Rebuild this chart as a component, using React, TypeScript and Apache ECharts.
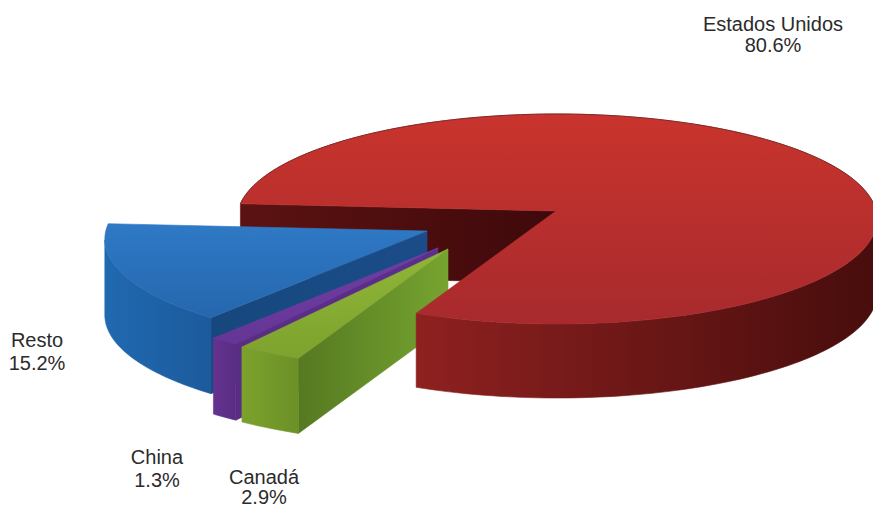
import { useEffect, useRef } from "react";
import * as echarts from "echarts";

// Shares of the total, listed clockwise from the left edge of the large slice.
const countries = ["Estados Unidos", "Canadá", "China", "Resto"];
const shares = [80.6, 2.9, 1.3, 15.2];

// Projected disc of the pie and the angle where the first slice begins.
const DISC = { cx: 557, cy: 219, rx: 320, ry: 105, apexX: 556, apexY: 211 };
const START_ANGLE = 184;

// Where each slice's point sits once pulled out, how much nearer it looks, and its thickness.
const apexX = [556, 448, 438, 427];
const apexY = [211, 249, 248, 231];
const nearScale = [1, 1.07, 1.05, 1.01];
const thickness = [74, 75, 76, 76];
const innerWallHeight = 72;

const linear = (x2: number, y2: number, from: string, to: string) =>
  new echarts.graphic.LinearGradient(0, 0, x2, y2, [
    { offset: 0, color: from },
    { offset: 1, color: to },
  ]);

const topFills = [
  linear(0, 1, "#c9342d", "#a82a2d"),
  linear(0, 1, "#8fb737", "#7ea22e"),
  linear(0, 1, "#6f3ea2", "#653596"),
  linear(0, 1, "#2f79c6", "#2567ad"),
];
const rimFills = [
  linear(1, 0, "#8e2120", "#470d0c"),
  linear(1, 0, "#7ba22c", "#6c9027"),
  linear(1, 0, "#64338f", "#5a2d84"),
  linear(1, 0, "#2069b0", "#1c5a9c"),
];
const cutFills = [
  linear(1, 0, "#5c1212", "#3f090b"),
  linear(1, 0, "#557921", "#76a430"),
  linear(1, 0, "#5a2d84", "#5c2e8e"),
  linear(1, 0, "#16487e", "#1b4c88"),
];

// Centre of each two-line label.
const labelX = [773, 264, 157, 37];
const labelNameY = [24, 477, 457, 340];
const labelValueY = [45, 497, 480, 363];

// Slice boundaries in degrees, clockwise on screen.
const bounds: [number, number][] = [];
shares.reduce((from, share) => {
  const to = from + (share / 100) * 360;
  bounds.push([from, to]);
  return to;
}, START_ANGLE);

// Where a ray leaving the slice's point at a given angle meets the rim of the disc.
function rimPoint(index: number, degrees: number): [number, number] {
  const a = (degrees * Math.PI) / 180;
  const c = Math.cos(a);
  const s = Math.sin(a);
  const ox = (DISC.apexX - DISC.cx) / DISC.rx;
  const oy = (DISC.apexY - DISC.cy) / DISC.ry;
  const b = ox * c + oy * s;
  const t = -b + Math.sqrt(b * b - (ox * ox + oy * oy - 1));
  const k = nearScale[index];
  return [apexX[index] + k * DISC.rx * t * c, apexY[index] + k * DISC.ry * t * s];
}

function rimArc(index: number, from: number, to: number) {
  const pts: [number, number][] = [];
  const steps = Math.max(2, Math.ceil((to - from) / 1.5));
  for (let i = 0; i <= steps; i++) pts.push(rimPoint(index, from + ((to - from) * i) / steps));
  return pts;
}

const drop = (pts: [number, number][], d: number) =>
  pts.map(([x, y]) => [x, y + d] as [number, number]);

// A hairline of the fill's own colour closes the seams between neighbouring faces.
const face = (points: [number, number][], fill: unknown) => ({
  type: "polygon",
  shape: { points },
  style: { fill, stroke: fill, lineWidth: 0.6 },
});

// Wall along a straight cut, from the slice's point out to the rim.
function cutWall(index: number, degrees: number, d: number) {
  const apex: [number, number] = [apexX[index], apexY[index]];
  const rim = rimPoint(index, degrees);
  return face([rim, apex, [apex[0], apex[1] + d], [rim[0], rim[1] + d]], cutFills[index]);
}

// Curved outer wall; only the part of the rim facing the viewer is built.
function outerWall(index: number) {
  const [from, to] = bounds[index];
  const floorY = DISC.cy + (apexY[index] - DISC.apexY);
  const arc = rimArc(index, from, to).filter(([, y]) => y >= floorY);
  return face([...arc, ...drop(arc, thickness[index]).reverse()], rimFills[index]);
}

function topFace(index: number) {
  const [from, to] = bounds[index];
  return face([[apexX[index], apexY[index]], ...rimArc(index, from, to)], topFills[index]);
}

function labelTexts(index: number) {
  const line = (text: string, y: number) => ({
    type: "text",
    style: {
      text,
      x: labelX[index],
      y,
      fill: "#2b2b2b",
      font: '20px "Liberation Sans", Arial, sans-serif',
      align: "center",
      verticalAlign: "middle",
    },
  });
  return [
    line(countries[index], labelNameY[index]),
    line(`${shares[index].toFixed(1)}%`, labelValueY[index]),
  ];
}

// Paint order: the large slice's inner wall goes behind the pulled-out slices,
// the rest of it goes in front of them.
const paintSlice = [0, 3, 2, 1, 0];
const paintPart = [0, 1, 1, 1, 1];

function renderSlicePart(_params: unknown, api: any) {
  const index = api.value(0);
  const part = api.value(1);
  if (part === 0) {
    return { type: "group", children: [cutWall(0, bounds[0][0], innerWallHeight)] };
  }
  const children: any[] = [];
  if (index !== 0) children.push(cutWall(index, bounds[index][0], thickness[index]));
  children.push(outerWall(index), topFace(index));
  if (index === 0) {
    children.push({
      type: "polyline",
      shape: { points: rimArc(0, bounds[0][0], 372) },
      style: { stroke: "#7c2a28", lineWidth: 1, fill: "none" },
    });
  }
  return { type: "group", children: [...children, ...labelTexts(index)] };
}

export default function App() {
  const ref = useRef<HTMLDivElement>(null);

  useEffect(() => {
    if (!ref.current) return;
    const chart = echarts.init(ref.current, undefined, { renderer: "svg" });
    chart.setOption({
      animation: false,
      backgroundColor: "#ffffff",
      series: [
        {
          type: "custom",
          coordinateSystem: "none",
          renderItem: renderSlicePart,
          silent: true,
          data: paintSlice.map((slice, i) => [slice, paintPart[i]]),
        },
      ],
    });
    return () => chart.dispose();
  }, []);

  return <div ref={ref} style={{ position: "absolute", left: 0, top: 0, width: 873, height: 508 }} />;
}
